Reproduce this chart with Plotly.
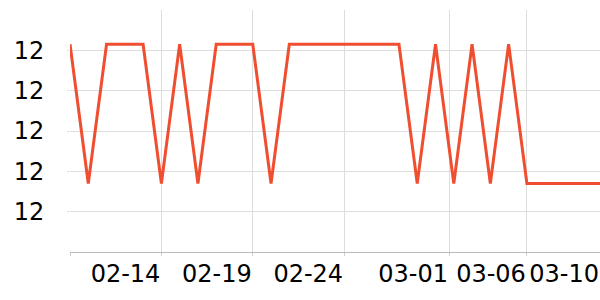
import plotly.graph_objects as go
import pandas as pd

dates = pd.date_range("2023-02-09", "2023-03-10", freq="D")
high, low = 12.43, 11.74
levels = ["H", "L", "H", "H", "H", "L", "H", "L", "H", "H",
          "H", "L", "H", "H", "H", "H", "H", "H", "H", "L",
          "H", "L", "H", "L", "H", "L", "L", "L", "L", "L"]
values = [high if s == "H" else low for s in levels]

x_tickvals = ["2023-02-09", "2023-02-14", "2023-02-19", "2023-02-24",
              "2023-03-01 17:45", "2023-03-06", "2023-03-10"]
x_ticktext = ["", "02-14", "02-19", "02-24", "03-01", "03-06", "03-10"]
y_tickvals = [11.6, 11.8, 12.0, 12.2, 12.4]
y_ticktext = ["12", "12", "12", "12", "12"]

fig = go.Figure(go.Scatter(
    x=dates, y=values, mode="lines",
    line=dict(color="#f04e30", width=3),
    hoverinfo="skip",
))

fig.update_layout(
    width=600, height=300,
    margin=dict(l=70, r=0, t=10, b=48),
    paper_bgcolor="white", plot_bgcolor="white",
    showlegend=False,
    font=dict(family="DejaVu Sans", size=24, color="black"),
)
fig.update_xaxes(
    type="date",
    range=["2023-02-09", "2023-03-10"],
    tickmode="array", tickvals=x_tickvals, ticktext=x_ticktext,
    ticklabelposition="outside left",
    tickangle=0,
    showgrid=True, gridcolor="#dddddd", gridwidth=1,
    showline=True, linecolor="#bbbbbb", linewidth=1,
    ticks="outside", ticklen=3, tickcolor="#cccccc",
    zeroline=False,
)
fig.update_yaxes(
    range=[11.4, 12.6],
    tickmode="array", tickvals=y_tickvals, ticktext=y_ticktext,
    showgrid=True, gridcolor="#dddddd", gridwidth=1,
    showline=False,
    ticks="outside", ticklen=2, tickcolor="#dddddd",
    ticklabelstandoff=18,
    zeroline=False,
)

fig.write_html("out.html")
